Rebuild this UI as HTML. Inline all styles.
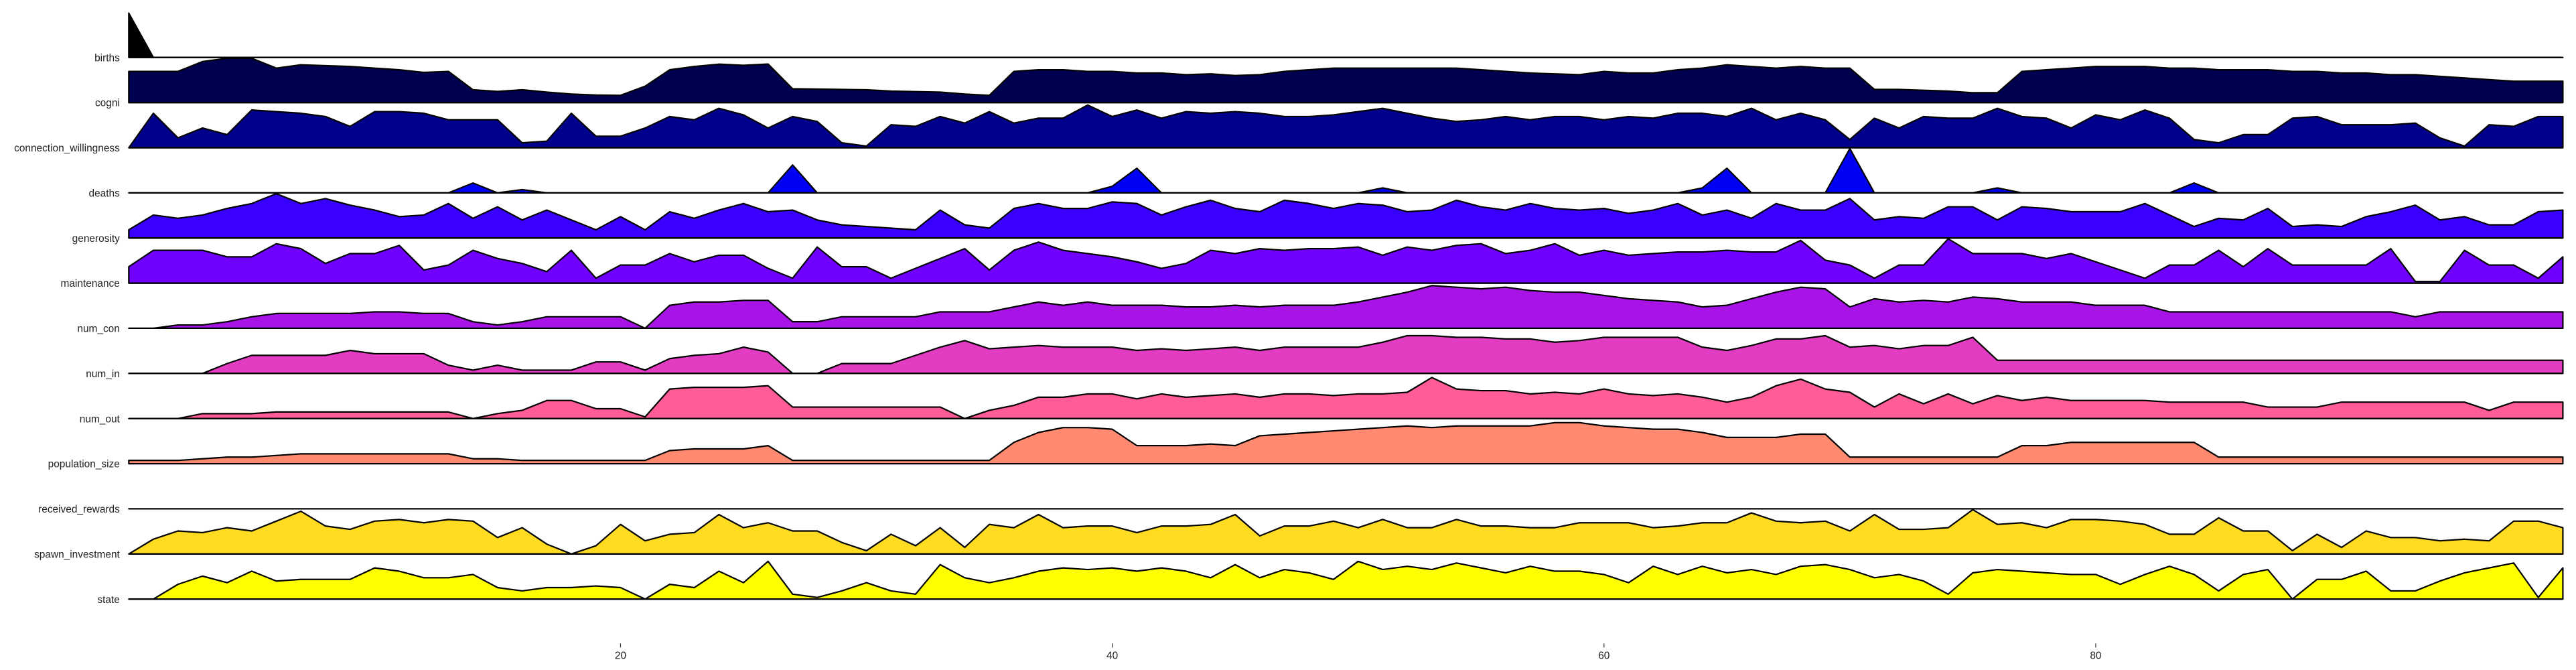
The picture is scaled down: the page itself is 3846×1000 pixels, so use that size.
<!DOCTYPE html>
<html><head><meta charset="utf-8"><style>
html,body{margin:0;padding:0;background:#fff;}
svg{display:block;}
text{font-family:"Liberation Sans",sans-serif;fill:#222;}
</style></head><body>
<svg id="chart" width="3846" height="1000" viewBox="0 0 1570 408.2" preserveAspectRatio="none" xmlns="http://www.w3.org/2000/svg">
<g id="rows"></g>
<g id="xaxis"></g>
</svg>
<script>
const rowNames = ["births","cogni","connection_willingness","deaths","generosity","maintenance","num_con","num_in","num_out","population_size","received_rewards","spawn_investment","state"];
const rowColors = ["#000000","#000050","#00008c","#0000f5","#3a00ff","#7000ff","#a814e6","#e23dc2","#ff5c98","#ff8a70","#ffb347","#ffdb22","#ffff00"];
const xTicks = [20,40,60,80];
const births = [27].concat(new Array(99).fill(0));
const cogni = [19,19,19,25,27,27,21,23,22.5,22,21,20,18.4,19,7.8,6.8,7.8,6.4,5.2,4.6,4.4,10,20,22,23.4,22.7,23.5,8.4,8.2,8,7.8,7,6.7,6.4,5.2,4.4,19,20,20,19,19,18,18,17,17.5,16.5,17,19,20,21,21,21,21,21,21,20,19,18,17.5,17,19,18,18,20,21,23,22,21,22,21,21,8,8,7.5,7,6,6,19,20,21,22,22,22,21,21,20,20,20,19,19,18,18,17,17,16,15,14,13,13,13];
const connection = [0,21,6,12,8,23,22,21,19,13,22,22,21,17,17,17,3,4,21,7,7,12,19,17,24,20,12,19,16,3,1,14,13,19,15,22,15,18,18,26,19,23,18,22,21,22,21,19,19,20,22,24,21,18,16,17,19,17,19,19,17,19,18,21,21,19,24,17,21,17,5,18,12,19,18,18,24,19,18,12,20,17,23,18,5,3,8,8,18,19,14,14,14,15,6,1,14,13,19,19];
const deaths = [0,0,0,0,0,0,0,0,0,0,0,0,0,0,6,0,2,0,0,0,0,0,0,0,0,0,0,17,0,0,0,0,0,0,0,0,0,0,0,0,4,15,0,0,0,0,0,0,0,0,0,3,0,0,0,0,0,0,0,0,0,0,0,0,3,15,0,0,0,0,27,0,0,0,0,0,3,0,0,0,0,0,0,0,6,0,0,0,0,0,0,0,0,0,0,0,0,0,0,0];
const generosity = [5,14,12,14,18,21,27,21,24,20,17,13,14,21,12,19,11,17,11,5,13,5,16,12,17,21,16,17,11,8,7,6,5,17,8,6,18,21,18,18,22,21,14,19,23,18,16,23,21,18,21,20,16,17,23,19,17,21,18,17,18,15,17,21,14,17,12,21,17,17,24,11,13,12,19,19,11,19,18,16,16,16,21,14,7,12,11,18,7,8,7,13,16,20,11,13,8,8,16,17];
const maintenance = [10,20,20,20,16,16,24,21,12,18,18,23,8,11,20,15,12,7,20,3,11,11,18,13,17,17,9,3,22,10,10,3,9,15,21,8,20,25,20,18,16,13,9,12,20,18,21,20,21,21,22,17,22,20,23,24,18,20,24,17,20,17,18,19,19,20,19,19,26,14,11,3,11,11,27,18,18,18,15,18,13,8,3,11,11,20,10,21,11,11,11,11,21,1,1,20,11,11,3,16];
const numCon = [0,0,2,2,4,7,9,9,9,9,10,10,9,9,4,2,4,7,7,7,7,0,14,16,16,17,17,4,4,7,7,7,7,10,10,10,13,16,14,16,14,14,14,13,13,14,13,14,14,14,16,19,22,26,25,24,25,23,22,22,20,18,17,16,13,14,18,22,25,24,13,18,16,17,16,19,18,16,16,16,14,14,14,10,10,10,10,10,10,10,10,10,10,7,10,10,10,10,10,10];
const numIn = [0,0,0,0,6,11,11,11,11,14,12,12,12,5,2,5,2,2,2,7,7,2,9,11,12,16,13,0,0,6,6,6,11,16,20,15,16,17,16,16,16,14,15,14,15,16,14,16,16,16,16,19,23,23,22,22,21,21,19,20,22,22,22,22,16,14,17,21,21,23,16,17,15,17,17,22,8,8,8,8,8,8,8,8,8,8,8,8,8,8,8,8,8,8,8,8,8,8,8,8];
const numOut = [0,0,0,3,3,3,4,4,4,4,4,4,4,4,0,3,5,11,11,6,6,1,18,19,19,19,20,7,7,7,7,7,7,7,0,5,8,13,13,15,15,12,15,13,14,15,13,15,15,14,15,15,16,25,18,17,17,15,16,15,18,15,14,15,13,10,13,20,24,18,16,7,15,9,15,9,14,11,13,11,11,11,11,10,10,10,10,7,7,7,10,10,10,10,10,10,5,10,10,10];
const population = [2,2,2,3,4,4,5,6,6,6,6,6,6,6,3,3,2,2,2,2,2,2,8,9,9,9,11,2,2,2,2,2,2,2,2,2,13,19,22,22,21,11,11,11,12,11,17,18,19,20,21,22,23,22,23,23,23,23,25,25,23,22,21,21,19,16,16,16,18,18,4,4,4,4,4,4,4,11,11,13,13,13,13,13,13,4,4,4,4,4,4,4,4,4,4,4,4,4,4,4];
const received = new Array(100).fill(0);
const spawn = [0,9,14,13,16,14,20,26,17,15,20,21,19,21,20,10,16,6,0,5,18,8,12,13,24,16,19,14,14,7,2,12,5,16,4,18,16,24,16,17,17,13,17,17,18,24,11,17,17,20,16,21,16,16,21,17,17,16,16,19,19,19,16,17,19,19,25,20,19,20,14,24,15,15,16,27,18,19,16,21,21,20,18,12,12,22,14,14,2,12,4,14,10,10,8,9,8,20,20,16];
const state = [0,0,9,14,10,17,11,12,12,12,19,17,13,13,15,7,5,7,7,8,7,0,9,7,17,10,23,3,1,5,10,5,3,21,13,10,13,17,19,18,19,17,19,17,13,21,13,18,16,12,23,18,20,18,22,19,16,20,17,17,15,10,20,15,20,16,18,15,20,21,18,13,15,11,3,16,18,17,16,15,15,9,15,20,15,5,15,18,0,12,12,17,5,5,11,16,19,22,1,19];
const series = [births,cogni,connection,deaths,generosity,maintenance,numCon,numIn,numOut,population,received,spawn,state];

const NS="http://www.w3.org/2000/svg";
const x0=78.5, x1=1562, xMin=0, xMax=99;
const xScale = v => x0 + (v - xMin) * (x1 - x0) / (xMax - xMin);
const base0=35, gap=27.5;
const yScale = (row, v) => base0 + row*gap - v;
const rowsG=document.getElementById('rows');
series.forEach((vals,r)=>{
  const g=document.createElementNS(NS,'g');
  
  
  const b=base0+r*gap;
  let d='M'+xScale(0)+','+b;
  vals.forEach((v,i)=>{d+=' L'+xScale(i).toFixed(2)+','+yScale(r,v).toFixed(2);});
  d+=' L'+xScale(vals.length-1).toFixed(2)+','+b+' Z';
  const p=document.createElementNS(NS,'path');
  p.setAttribute('d',d);
  p.setAttribute('fill',rowColors[r]);
  p.setAttribute('stroke','#000');
  p.setAttribute('stroke-width','0.9');
  p.setAttribute('stroke-linejoin','round');
  
  
  g.appendChild(p);
  const ln=document.createElementNS(NS,'line');
  ln.setAttribute('x1',xScale(0));ln.setAttribute('x2',xScale(xMax));
  ln.setAttribute('y1',b);ln.setAttribute('y2',b);
  ln.setAttribute('stroke','#000');ln.setAttribute('stroke-width','0.9');
  
  
  g.appendChild(ln);
  const t=document.createElementNS(NS,'text');
  t.setAttribute('x',73);t.setAttribute('y',b+2.3);
  t.setAttribute('text-anchor','end');t.setAttribute('font-size','6.3');
  t.textContent=rowNames[r];
  
  
  g.appendChild(t);
  rowsG.appendChild(g);
});
const ax=document.getElementById('xaxis');
xTicks.forEach(v=>{
  const x=xScale(v);
  const tk=document.createElementNS(NS,'line');
  tk.setAttribute('x1',x);tk.setAttribute('x2',x);tk.setAttribute('y1',392);tk.setAttribute('y2',394.5);
  tk.setAttribute('stroke','#333');tk.setAttribute('stroke-width','0.5');
  
  
  ax.appendChild(tk);
  const t=document.createElementNS(NS,'text');
  t.setAttribute('x',x);t.setAttribute('y',401.5);t.setAttribute('text-anchor','middle');t.setAttribute('font-size','6.3');
  t.textContent=v;
  
  
  ax.appendChild(t);
});
</script>
</body></html>
